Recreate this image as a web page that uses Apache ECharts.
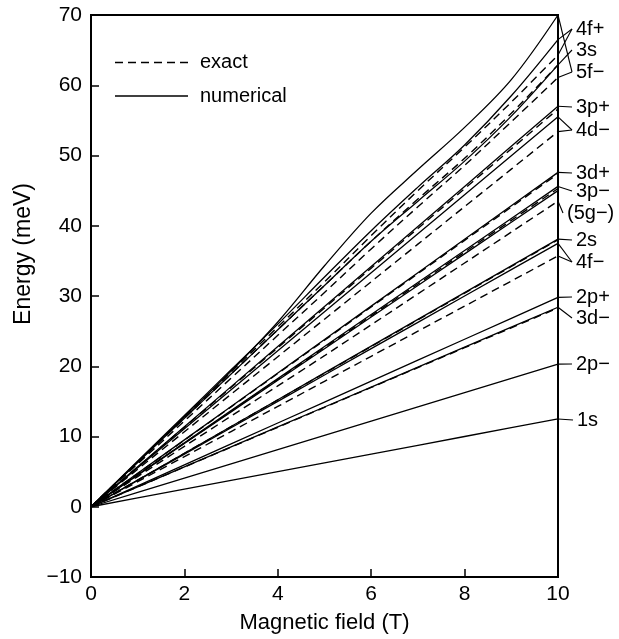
<!DOCTYPE html>
<html>
<head>
<meta charset="utf-8">
<script src="https://cdn.jsdelivr.net/npm/echarts@6/dist/echarts.min.js"></script>
<style>
html,body{margin:0;padding:0;background:#fff;}
#chart{width:619px;height:639px;}
</style>
</head>
<body>
<div id="chart"></div>
<script>
// ---- data ----
var fieldT = [0, 1, 2, 3, 4, 5, 6, 7, 8, 9, 10];

// numerical (solid)
var num5fMinus = [0, 6.4, 12.8, 19.3, 26.3, 34.3, 41.8, 48.0, 54.0, 60.8, 70.0];
var num4fPlus  = [0, 6.5, 13.0, 19.5, 26.0, 32.7, 39.3, 45.5, 51.5, 58.5, 66.5];
var num3s      = [0, 6.3, 12.6, 18.9, 25.2, 31.5, 37.8, 43.5, 49.2, 55.6, 62.9];
var num3pPlus  = [0, 5.7, 11.4, 17.1, 22.8, 28.5, 34.2, 39.9, 45.6, 51.3, 57.0];
var num4dMinus = [0, 5.55, 11.1, 16.65, 22.2, 27.75, 33.3, 38.85, 44.4, 49.95, 55.5];
var num3dPlus  = [0, 4.76, 9.52, 14.28, 19.04, 23.8, 28.56, 33.32, 38.08, 42.84, 47.6];
var num3pMinus = [0, 4.56, 9.12, 13.68, 18.24, 22.8, 27.36, 31.92, 36.48, 41.04, 45.6];
var num5gMinus = [0, 4.5, 9.0, 13.5, 18.0, 22.5, 27.0, 31.5, 36.0, 40.5, 45.0];
var num2s      = [0, 3.81, 7.62, 11.43, 15.24, 19.05, 22.86, 26.67, 30.48, 34.29, 38.1];
var num4fMinus = [0, 3.75, 7.5, 11.25, 15.0, 18.75, 22.5, 26.25, 30.0, 33.75, 37.5];
var num2pPlus  = [0, 2.98, 5.96, 8.94, 11.92, 14.9, 17.88, 20.86, 23.84, 26.82, 29.8];
var num3dMinus = [0, 2.84, 5.68, 8.52, 11.36, 14.2, 17.04, 19.88, 22.72, 25.56, 28.4];
var num2pMinus = [0, 2.03, 4.06, 6.09, 8.12, 10.15, 12.18, 14.21, 16.24, 18.27, 20.3];
var num1s      = [0, 1.25, 2.5, 3.75, 5.0, 6.25, 7.5, 8.75, 10.0, 11.25, 12.5];

// exact (dashed)
var ex4fPlus  = [0, 6.4, 12.8, 19.2, 25.6, 32.0, 38.6, 45.0, 51.2, 57.6, 64.3];
var ex3s      = [0, 6.3, 12.6, 18.9, 25.2, 31.5, 37.8, 43.8, 49.6, 56.0, 62.9];
var ex5fMinus = [0, 6.1, 12.2, 18.3, 24.4, 30.5, 36.7, 42.7, 48.6, 54.8, 61.1];
var ex3pPlus  = [0, 5.66, 11.32, 16.98, 22.64, 28.3, 33.96, 39.62, 45.28, 50.94, 56.6];
var ex4dMinus = [0, 5.34, 10.68, 16.02, 21.36, 26.7, 32.04, 37.38, 42.72, 48.06, 53.4];
var ex3dPlus  = [0, 4.74, 9.48, 14.22, 18.96, 23.7, 28.44, 33.18, 37.92, 42.66, 47.4];
var ex3pMinus = [0, 4.53, 9.06, 13.59, 18.12, 22.65, 27.18, 31.71, 36.24, 40.77, 45.3];
var ex5gMinus = [0, 4.3, 8.6, 12.9, 17.2, 21.5, 25.9, 30.3, 34.7, 39.1, 43.5];
var ex2s      = [0, 3.8, 7.6, 11.4, 15.2, 19.0, 22.8, 26.6, 30.4, 34.2, 38.0];
var ex4fMinus = [0, 3.57, 7.14, 10.71, 14.28, 17.85, 21.42, 24.99, 28.56, 32.13, 35.7];
var ex3dMinus = [0, 2.83, 5.66, 8.49, 11.32, 14.15, 16.98, 19.81, 22.64, 25.47, 28.3];

// state labels at right, with the curve end values they point to
var stateLabels = ['4f+', '3s', '5f\u2212', '3p+', '4d\u2212', '3d+', '3p\u2212', '(5g\u2212)', '2s', '4f\u2212', '2p+', '3d\u2212', '2p\u2212', '1s'];
var labelTargets = [
  [num4fPlus, ex4fPlus], [num3s], [num5fMinus, ex5fMinus], [num3pPlus], [num4dMinus, ex4dMinus],
  [num3dPlus], [num3pMinus], [ex5gMinus], [num2s], [num4fMinus, ex4fMinus],
  [num2pPlus], [num3dMinus], [num2pMinus], [num1s]
];

// ---- chart ----
var FONT = 'Liberation Sans, Arial, Helvetica, sans-serif';
function pairs(arr) { return fieldT.map(function (x, i) { return [x, arr[i]]; }); }

var curvedSolid = [num5fMinus, num4fPlus, num3s];
var solid = [num3pPlus, num4dMinus, num3dPlus, num3pMinus, num5gMinus,
             num2s, num4fMinus, num2pPlus, num3dMinus, num2pMinus, num1s];
var curvedDashed = [ex4fPlus, ex3s, ex5fMinus];
var dashed = [ex3pPlus, ex4dMinus, ex3dPlus, ex3pMinus, ex5gMinus, ex2s, ex4fMinus, ex3dMinus];

var series = [];
function add(d, isDashed, smooth) {
  series.push({ type: 'line', data: pairs(d), showSymbol: false, silent: true, animation: false,
    smooth: smooth ? 0.35 : false,
    lineStyle: { color: '#000', width: isDashed ? 1.4 : 1.3, type: isDashed ? [8, 5] : 'solid' } });
}
curvedDashed.forEach(function (d) { add(d, true, true); });
dashed.forEach(function (d) { add(d, true, false); });
curvedSolid.forEach(function (d) { add(d, false, true); });
solid.forEach(function (d) { add(d, false, false); });

var chart = echarts.init(document.getElementById('chart'), null, { renderer: 'canvas' });
chart.setOption({
  backgroundColor: '#fff',
  animation: false,
  grid: { left: 91, right: 61, top: 15, bottom: 61, show: true, borderColor: '#000', borderWidth: 2 },
  xAxis: {
    type: 'value', min: 0, max: 10, interval: 2,
    name: 'Magnetic field (T)', nameLocation: 'middle', nameGap: 35,
    nameTextStyle: { fontFamily: FONT, fontSize: 22, color: '#000' },
    axisLine: { onZero: false, lineStyle: { color: '#000', width: 2 } },
    axisTick: { inside: true, length: 8, lineStyle: { color: '#000', width: 1.5 } },
    axisLabel: { fontFamily: FONT, fontSize: 21, color: '#000', margin: 7 },
    splitLine: { show: false }
  },
  yAxis: {
    type: 'value', min: -10, max: 70, interval: 10,
    axisLine: { onZero: false, lineStyle: { color: '#000', width: 2 } },
    axisTick: { inside: true, length: 8, lineStyle: { color: '#000', width: 1.5 } },
    axisLabel: { fontFamily: FONT, fontSize: 21, color: '#000', margin: 9,
      formatter: function (v) { return String(v).replace('-', '\u2212'); } },
    splitLine: { show: false }
  },
  series: series
});

// y-axis title, legend and right-hand labels with leader lines
var labelY = [29, 50, 72, 107, 130, 173, 191, 213, 240, 262, 297, 318, 364, 420];
var labelX = [576, 576, 576, 576, 576, 576, 576, 567, 576, 576, 576, 576, 576, 577];
var graphics = [];
graphics.push({ type: 'text', x: 24, y: 254, rotation: Math.PI / 2,
  style: { text: 'Energy (meV)', font: '23px ' + FONT, fill: '#000', textAlign: 'center', textVerticalAlign: 'middle' } });
graphics.push({ type: 'line', shape: { x1: 115, y1: 62.5, x2: 189, y2: 62.5 },
  style: { stroke: '#000', lineWidth: 1.4, lineDash: [8, 5] } });
graphics.push({ type: 'text', x: 200, y: 62.5,
  style: { text: 'exact', font: '20px ' + FONT, fill: '#000', textVerticalAlign: 'middle' } });
graphics.push({ type: 'line', shape: { x1: 115, y1: 96, x2: 188, y2: 96 },
  style: { stroke: '#000', lineWidth: 1.4 } });
graphics.push({ type: 'text', x: 200, y: 96,
  style: { text: 'numerical', font: '20px ' + FONT, fill: '#000', textVerticalAlign: 'middle' } });

stateLabels.forEach(function (lab, i) {
  graphics.push({ type: 'text', x: labelX[i], y: labelY[i],
    style: { text: lab, font: '20px ' + FONT, fill: '#000', textVerticalAlign: 'middle' } });
  var vx = labelX[i] - 4, vy = labelY[i];
  labelTargets[i].forEach(function (arr) {
    var p = chart.convertToPixel({ gridIndex: 0 }, [fieldT[fieldT.length - 1], arr[arr.length - 1]]);
    graphics.push({ type: 'line', shape: { x1: vx, y1: vy, x2: p[0], y2: p[1] },
      style: { stroke: '#000', lineWidth: 1.1 } });
  });
});
chart.setOption({ graphic: graphics });
</script>
</body>
</html>
